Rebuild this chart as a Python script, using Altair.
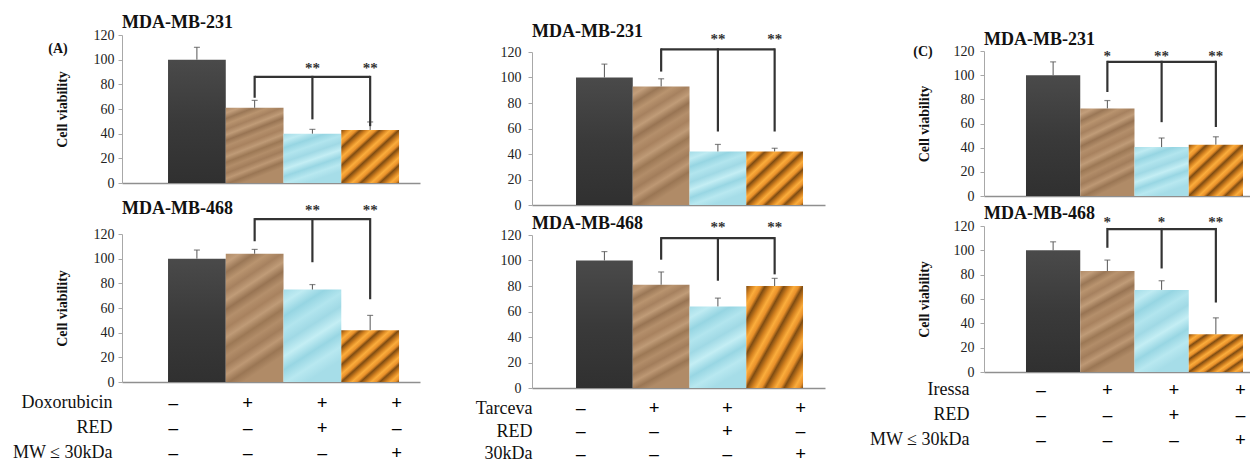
import altair as alt
import pandas as pd

SERIF = "Times New Roman, Liberation Serif, DejaVu Serif, serif"
categories = ["Control", "Drug", "Drug + RED", "Drug + MW<=30kDa"]

# ---- (A) Doxorubicin ----
a231_mean = [100, 61, 40, 43]
a231_err = [10, 6, 3.5, 6.5]
a468_mean = [100, 104, 75, 42]
a468_err = [7, 3.5, 4, 12]
# ---- (B) Tarceva ----
b231_mean = [100, 93, 42, 42]
b231_err = [10.5, 6, 5.5, 2.5]
b468_mean = [100, 81, 64, 80]
b468_err = [7, 10, 6.5, 6]
# ---- (C) Iressa ----
c231_mean = [100, 72.5, 40.5, 42.5]
c231_err = [11, 6.5, 7.5, 6.5]
c468_mean = [100, 83, 67.5, 31]
c468_err = [7, 9, 7.5, 13.5]

# significance brackets (data units): bracket level, drop ends for bars 2-4, stars
a231_level, a231_drop, a231_stars, a231_star_y = 86, [70, 52.5, 47], ["", "**", "**"], 93
a468_level, a468_drop, a468_stars, a468_star_y = 132, [115, 98, 68], ["", "**", "**"], 139.5
b231_level, b231_drop, b231_stars, b231_star_y = 122, [105.5, 58.5, 58.5], ["", "**", "**"], 130.5
b468_level, b468_drop, b468_stars, b468_star_y = 117.5, [101.5, 85, 90], ["", "**", "**"], 126.5
c231_level, c231_drop, c231_stars, c231_star_y = 111, [87, 62, 58], ["*", "**", "**"], 115.5
c468_level, c468_drop, c468_stars, c468_star_y = 117.5, [103, 86, 58], ["*", "*", "**"], 123.5

# treatment tables
rows_a = ["Doxorubicin", "RED", "MW \u2264 30kDa"]
rows_b = ["Tarceva", "RED", "30kDa"]
rows_c = ["Iressa", "RED", "MW \u2264 30kDa"]
signs = [["\u2013", "+", "+", "+"],
         ["\u2013", "\u2013", "+", "\u2013"],
         ["\u2013", "\u2013", "\u2013", "+"]]

y_ticks = [0, 20, 40, 60, 80, 100, 120]


# ---------- fills (style only) ----------
def grad(colors, x2=1, y2=1):
    n = len(colors) - 1
    return alt.Gradient(gradient="linear",
                        stops=[alt.GradientStop(color=c, offset=i / n) for i, c in enumerate(colors)],
                        x1=0, y1=0, x2=x2, y2=y2)


dark_fill = grad(["#4a4a4a", "#3a3a3a", "#303030"], x2=0, y2=1)
brown_fill = grad(["#b18c68", "#c29e7b", "#9a7756", "#b9946f", "#a6815f", "#c09c78",
                   "#987453", "#b48f6b", "#a8825f", "#bf9b77", "#9c7855", "#b28d69",
                   "#a27d5b", "#bd9874", "#9a7654", "#b08b67"], x2=0.3, y2=1)
cyan_fill = grad(["#a4dce7", "#bfebf2", "#96d5e2", "#b2e5ee", "#a0d9e5", "#c4eef4",
                  "#98d6e3", "#b8e8f0", "#a6dde8"], x2=0.4, y2=1)
_orange = []
_periods = 6
for k in range(_periods):
    for f, c in [(0.0, "#7f4c12"), (0.3, "#d2801f"), (0.55, "#fbad3c"), (0.8, "#e8902a")]:
        _orange.append(alt.GradientStop(color=c, offset=(k + f) / _periods))
_orange.append(alt.GradientStop(color="#7f4c12", offset=1.0))
orange_fill = alt.Gradient(gradient="linear", stops=_orange, x1=0, y1=0, x2=1, y2=1)
fills = [dark_fill, brown_fill, cyan_fill, orange_fill]


def xscale(po, al):
    return alt.Scale(domain=categories, paddingInner=0, paddingOuter=po, align=al)


YS = alt.Scale(domain=[0, 120], nice=False, zero=True)


def panel(mean, err, level, drop, stars, star_y, name, W, H, po, al,
          ytitle, lpad, title_off, tag=None, tag_xy=None):
    df = pd.DataFrame({"cat": categories, "mean": mean,
                       "top": [m + e for m, e in zip(mean, err)]})
    br = pd.DataFrame({"cat": categories[1:], "level": [level] * 3, "drop": drop,
                       "star": stars, "star_y": [star_y] * 3})
    xs = xscale(po, al)
    xax = alt.Axis(labels=False, ticks=False, title=None, domainColor="#8f8f8f",
                   domainWidth=1.5, grid=False)
    yax = alt.Axis(values=y_ticks, grid=False, labelFont=SERIF, labelFontSize=14,
                   labelColor="#222", domainColor="#a8a8a8", tickColor="#a8a8a8",
                   tickSize=4, labelPadding=lpad, minExtent=30, maxExtent=30,
                   title=ytitle if ytitle else "", titleFont=SERIF, titleFontSize=14,
                   titleFontWeight="bold", titleColor="#111", titlePadding=23)
    X = alt.X("cat:N", scale=xs, axis=xax)

    def Y(field):
        return alt.Y(field, scale=YS, axis=yax)

    layers = []
    for i, c in enumerate(categories):
        layers.append(alt.Chart(df).transform_filter(alt.datum.cat == c)
                      .mark_bar(color=fills[i])
                      .encode(x=X, y=Y("mean:Q")))
    base = alt.Chart(df)
    layers.append(base.mark_rule(color="#555", strokeWidth=1).encode(
        x=X, y=Y("mean:Q"), y2="top:Q"))
    layers.append(base.mark_tick(color="#555", orient="horizontal", size=6, thickness=1.2).encode(
        x=X, y=Y("top:Q")))
    bb = alt.Chart(br)
    layers.append(bb.mark_rule(color="#333", strokeWidth=2.2, strokeCap="square").encode(
        x=X, y=Y("level:Q"), y2="drop:Q"))
    layers.append(bb.mark_line(color="#333", strokeWidth=2.2).encode(
        x=X, y=Y("level:Q")))
    layers.append(bb.mark_text(font=SERIF, fontSize=15, fontWeight="bold", color="#333",
                               baseline="middle").encode(
        x=X, y=Y("star_y:Q"), text="star:N"))
    one = pd.DataFrame({"t": [name]})
    layers.append(alt.Chart(one).mark_text(font=SERIF, fontSize=18, fontWeight="bold",
                                           color="#111", align="left", baseline="alphabetic")
                  .encode(x=alt.value(0), y=alt.value(-title_off), text="t:N"))
    if tag:
        tg = pd.DataFrame({"t": [tag]})
        layers.append(alt.Chart(tg).mark_text(font=SERIF, fontSize=14, fontWeight="bold",
                                              color="#111", baseline="middle")
                      .encode(x=alt.value(tag_xy[0]), y=alt.value(tag_xy[1]), text="t:N"))
    return alt.layer(*layers).properties(width=W, height=H)


def table(rows, W, po, al, lpad, H=75):
    recs = []
    for r, row_signs in zip(rows, signs):
        for c, s in zip(categories, row_signs):
            recs.append({"cat": c, "row": r, "sign": s})
    df = pd.DataFrame(recs)
    return alt.Chart(df).mark_text(font=SERIF, fontSize=19, fontWeight="bold",
                                   color="#000", baseline="middle").encode(
        x=alt.X("cat:N", scale=xscale(po, al), axis=None),
        y=alt.Y("row:N", sort=rows, scale=alt.Scale(paddingInner=0, paddingOuter=0),
                axis=alt.Axis(title=None, domain=False, ticks=False, labelFont=SERIF,
                              labelFontSize=18, labelColor="#111", labelPadding=lpad,
                              labelLimit=300)),
        text="sign:N").properties(width=W, height=H)


def spacer(W, h):
    return alt.Chart(pd.DataFrame({"s": [0]})).mark_rule(strokeOpacity=0).encode(
        x=alt.value(0), y=alt.value(0), y2=alt.value(h)).properties(width=W, height=h)


# column A
WA, poA, alA = 298, 0.58, 0.687
colA = alt.vconcat(
    spacer(WA, 15),
    panel(a231_mean, a231_err, a231_level, a231_drop, a231_stars, a231_star_y, "MDA-MB-231",
          WA, 148, poA, alA, "Cell viability", 4, 7, "(A)", (-64, 14)),
    spacer(WA, 35),
    panel(a468_mean, a468_err, a468_level, a468_drop, a468_stars, a468_star_y, "MDA-MB-468",
          WA, 148, poA, alA, "Cell viability", 4, 20),
    table(rows_a, WA, poA, alA, 10),
    spacing=8, bounds="flush")

# column B
WB, poB, alB = 293, 0.5815, 0.667
colB = alt.vconcat(
    spacer(WB, 31),
    panel(b231_mean, b231_err, b231_level, b231_drop, b231_stars, b231_star_y, "MDA-MB-231",
          WB, 153, poB, alB, None, 7, 15),
    spacer(WB, 12),
    panel(b468_mean, b468_err, b468_level, b468_drop, b468_stars, b468_star_y, "MDA-MB-468",
          WB, 153, poB, alB, None, 7, 6),
    table(rows_b, WB, poB, alB, 0, H=68),
    spacing=9, bounds="flush")

# column C
WC, poC, alC = 266, 0.4516, 0.857
colC = alt.vconcat(
    spacer(WC, 34),
    panel(c231_mean, c231_err, c231_level, c231_drop, c231_stars, c231_star_y, "MDA-MB-231",
          WC, 145, poC, alC, "Cell viability", 6, 6.5, "(C)", (-61, 1)),
    spacer(WC, 20),
    panel(c468_mean, c468_err, c468_level, c468_drop, c468_stars, c468_star_y, "MDA-MB-468",
          WC, 146, poC, alC, "Cell viability", 6, 6.7),
    table(rows_c, WC, poC, alC, 15),
    spacing=5, bounds="flush")

chart = alt.hconcat(colA, alt.hconcat(colB, colC, spacing=44), spacing=55).properties(
    padding={"left": 4, "top": 4, "right": 0, "bottom": 0},
    background="white",
).configure_view(strokeWidth=0)

chart.save("out.html", embed_options={"renderer": "svg", "actions": False})
